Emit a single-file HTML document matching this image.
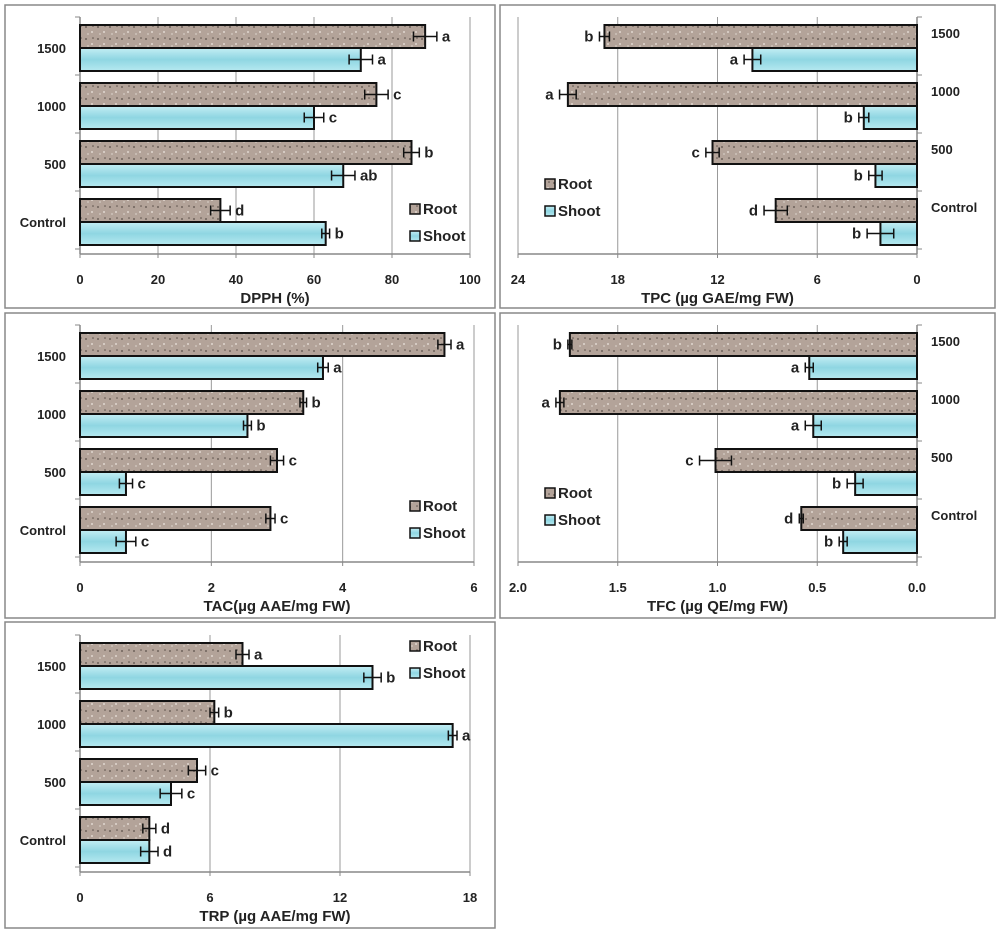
<!DOCTYPE html>
<html><head><meta charset="utf-8"><style>
body{margin:0;background:#fff}
svg text{font-family:"Liberation Sans",Arial,sans-serif;font-weight:bold}
</style></head><body>
<svg id="c" width="1000" height="936" viewBox="0 0 1000 936" xmlns="http://www.w3.org/2000/svg">
<defs>
<pattern id="rootPat" width="12" height="12" patternUnits="userSpaceOnUse">
<rect width="12" height="12" fill="#b3a399"/>
<circle cx="2" cy="3" r="1" fill="#6f625a"/><circle cx="8" cy="8" r="1" fill="#e0d6cf"/>
<circle cx="9" cy="2" r="0.8" fill="#5d524b"/><circle cx="4" cy="10" r="0.9" fill="#d6ccc4"/>
</pattern>
<linearGradient id="shootPat" x1="0" y1="0" x2="0" y2="1">
<stop offset="0" stop-color="#c4eef4"/><stop offset="0.5" stop-color="#8fd6e2"/><stop offset="1" stop-color="#b6e9f0"/>
</linearGradient>
</defs>
</svg>
<script>
const categories=["1500","1000","500","Control"];
const dpphRoot=[88.5,76,85,36], dpphRootErr=[3,3,2,2.5], dpphShoot=[72,60,67.5,63], dpphShootErr=[3,2.5,3,1];
const dpphRootLet=["a","c","b","d"], dpphShootLet=["a","c","ab","b"];
const tpcRoot=[18.8,21,12.3,8.5], tpcRootErr=[0.3,0.5,0.4,0.7], tpcShoot=[9.9,3.2,2.5,2.2], tpcShootErr=[0.5,0.3,0.4,0.8];
const tpcRootLet=["b","a","c","d"], tpcShootLet=["a","b","b","b"];
const tacRoot=[5.55,3.4,3.0,2.9], tacRootErr=[0.1,0.05,0.1,0.07], tacShoot=[3.7,2.55,0.7,0.7], tacShootErr=[0.08,0.06,0.1,0.15];
const tacRootLet=["a","b","c","c"], tacShootLet=["a","b","c","c"];
const tfcRoot=[1.74,1.79,1.01,0.58], tfcRootErr=[0.01,0.02,0.08,0.01], tfcShoot=[0.54,0.52,0.31,0.37], tfcShootErr=[0.02,0.04,0.04,0.02];
const tfcRootLet=["b","a","c","d"], tfcShootLet=["a","a","b","b"];
const trpRoot=[7.5,6.2,5.4,3.2], trpRootErr=[0.3,0.2,0.4,0.3], trpShoot=[13.5,17.2,4.2,3.2], trpShootErr=[0.4,0.2,0.5,0.4];
const trpRootLet=["a","b","c","d"], trpShootLet=["b","a","c","d"];
const dpphTicks=["0","20","40","60","80","100"], tpcTicks=["24","18","12","6","0"], tacTicks=["0","2","4","6"], tfcTicks=["2.0","1.5","1.0","0.5","0.0"], trpTicks=["0","6","12","18"];

const svg=document.getElementById('c');const NS="http://www.w3.org/2000/svg";
function mk(tag,at,parent){const e=document.createElementNS(NS,tag);for(const k in at)e.setAttribute(k,at[k]);(parent||svg).appendChild(e);return e;}
function panel(o){
 const g=mk('g',{});
 
 
 mk('rect',{x:o.bx,y:o.by,width:o.bw,height:o.bh,fill:'#fff',stroke:'#888','stroke-width':1.5},g);
 const sx=v=>o.rev? o.x0-(v/o.max)*(o.x0-o.x1) : o.x0+(v/o.max)*(o.x1-o.x0);
 const top=o.top,bottom=top+4*58-3;
 const nt=o.ticks.length;
 for(let i=0;i<nt;i++){const v=o.max*i/(nt-1);const x=sx(v);
  if(v>0) mk('line',{x1:x,y1:top-8,x2:x,y2:bottom,stroke:'#999','stroke-width':1},g);
  mk('line',{x1:x,y1:bottom,x2:x,y2:bottom+4,stroke:'#888'},g);
  const lab=o.rev? o.ticks[nt-1-i]:o.ticks[i];
  const t=mk('text',{x:x,y:bottom+30,'text-anchor':'middle','font-size':13,fill:'#222'},g);t.textContent=lab;
  
  }
 const ax=sx(0);
 mk('line',{x1:ax,y1:top-8,x2:ax,y2:bottom,stroke:'#888','stroke-width':1.5},g);
 mk('line',{x1:Math.min(sx(0),sx(o.max)),y1:bottom,x2:Math.max(sx(0),sx(o.max)),y2:bottom,stroke:'#888','stroke-width':1.5},g);
 for(let i=0;i<=4;i++){const y=top-8+i*58;mk('line',{x1:ax,y1:y,x2:o.rev?ax+5:ax-5,y2:y,stroke:'#888'},g);}
 const at=mk('text',{x:(sx(0)+sx(o.max))/2,y:bottom+49,'text-anchor':'middle','font-size':15,fill:'#222'},g);at.textContent=o.title;
 
 
 const series=[[o.root,o.rootErr,o.rootLet,'url(#rootPat)','root'],[o.shoot,o.shootErr,o.shootLet,'url(#shootPat)','shoot']];
 categories.forEach((c,i)=>{
  const gy=top+i*58;
  const cl=mk('text',{x:o.rev?ax+14:ax-14,y:o.rev?gy+13:gy+28,'text-anchor':o.rev?'start':'end','font-size':13,fill:'#222'},g);cl.textContent=c;
  
  
  series.forEach((s,j)=>{
   const v=s[0][i],e=s[1][i],y=gy+j*23;
   const xa=sx(0),xb=sx(v);
   const r=mk('rect',{x:Math.min(xa,xb),y:y,width:Math.abs(xb-xa),height:23,fill:s[3],stroke:'#111','stroke-width':2},g);
   
   
   const e1=sx(v-e),e2=sx(v+e),cy=y+11.5;
   mk('line',{x1:e1,y1:cy,x2:e2,y2:cy,stroke:'#111','stroke-width':1.5},g);
   mk('line',{x1:e1,y1:cy-5,x2:e1,y2:cy+5,stroke:'#111','stroke-width':1.5},g);
   mk('line',{x1:e2,y1:cy-5,x2:e2,y2:cy+5,stroke:'#111','stroke-width':1.5},g);
   const lx=o.rev? Math.min(e1,e2)-6 : Math.max(e1,e2)+5;
   const lt=mk('text',{x:lx,y:cy+5,'text-anchor':o.rev?'end':'start','font-size':15,fill:'#222'},g);lt.textContent=s[2][i];
   
   
  });
 });
 [['Root','url(#rootPat)'],['Shoot','url(#shootPat)']].forEach((l,j)=>{
  const ly=o.ly+j*27;
  const lg=mk('g',{},g);
  
  
  mk('rect',{x:o.lx,y:ly-9,width:10,height:10,fill:l[1],stroke:'#111','stroke-width':1.5},lg);
  const t=mk('text',{x:o.lx+13,y:ly+1,'font-size':15,fill:'#222'},lg);t.textContent=l[0];
 });
}
panel({name:'dpph',bx:5,by:5,bw:490,bh:303,x0:80,x1:470,max:100,rev:false,top:25,ticks:dpphTicks,title:'DPPH (%)',root:dpphRoot,rootErr:dpphRootErr,rootLet:dpphRootLet,shoot:dpphShoot,shootErr:dpphShootErr,shootLet:dpphShootLet,lx:410,ly:213});
panel({name:'tpc',bx:500,by:5,bw:495,bh:303,x0:917,x1:518,max:24,rev:true,top:25,ticks:tpcTicks,title:'TPC (µg GAE/mg FW)',root:tpcRoot,rootErr:tpcRootErr,rootLet:tpcRootLet,shoot:tpcShoot,shootErr:tpcShootErr,shootLet:tpcShootLet,lx:545,ly:188});
panel({name:'tac',bx:5,by:313,bw:490,bh:305,x0:80,x1:474,max:6,rev:false,top:333,ticks:tacTicks,title:'TAC(µg AAE/mg FW)',root:tacRoot,rootErr:tacRootErr,rootLet:tacRootLet,shoot:tacShoot,shootErr:tacShootErr,shootLet:tacShootLet,lx:410,ly:510});
panel({name:'tfc',bx:500,by:313,bw:495,bh:305,x0:917,x1:518,max:2,rev:true,top:333,ticks:tfcTicks,title:'TFC (µg QE/mg FW)',root:tfcRoot,rootErr:tfcRootErr,rootLet:tfcRootLet,shoot:tfcShoot,shootErr:tfcShootErr,shootLet:tfcShootLet,lx:545,ly:497});
panel({name:'trp',bx:5,by:622,bw:490,bh:306,x0:80,x1:470,max:18,rev:false,top:643,ticks:trpTicks,title:'TRP (µg AAE/mg FW)',root:trpRoot,rootErr:trpRootErr,rootLet:trpRootLet,shoot:trpShoot,shootErr:trpShootErr,shootLet:trpShootLet,lx:410,ly:650});
</script>
</body></html>
